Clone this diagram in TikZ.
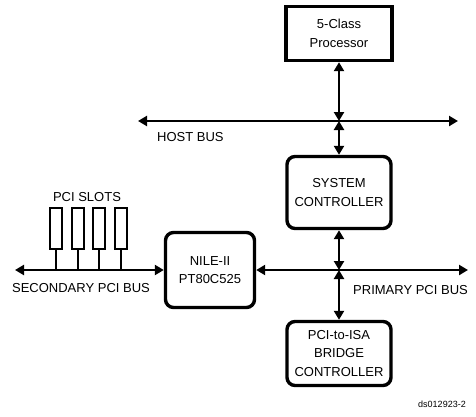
\documentclass[tikz,border=0pt]{standalone}
\usepackage{fontspec}
\setmainfont{Liberation Sans}
\usetikzlibrary{arrows.meta}
\tikzset{
  lbl/.style={font=\fontsize{13}{18.5}\selectfont, inner sep=0pt},
  blk/.style={draw, line width=3.4pt, align=center, lbl, rounded corners=8pt},
  sqblk/.style={blk, sharp corners},
  bus/.style={line width=2.5pt, {Triangle[length=9pt,width=10pt]}-{Triangle[length=9pt,width=10pt]}},
  slot/.style={draw, line width=2pt, minimum width=12pt, minimum height=41pt, inner sep=0pt}
}
\begin{document}
\begin{tikzpicture}[x=1pt,y=-1pt]
\useasboundingbox (0,0) rectangle (476,416);
% blocks
\node[sqblk, minimum width=106pt, minimum height=54pt] (proc) at (339,33.5) {5-Class\\Processor};
\node[blk, minimum width=104pt, minimum height=72pt] (sysctl) at (339,192.5) {SYSTEM\\CONTROLLER};
\node[blk, minimum width=89pt, minimum height=75pt] (nile) at (210,270) {NILE-II\\PT80C525};
\node[blk, minimum width=104pt, minimum height=64pt] (bridge) at (339,353.5) {PCI-to-ISA\\BRIDGE\\CONTROLLER};
% buses
\coordinate (hbL) at (138,121);
\coordinate (hbR) at (458,121);
\coordinate (hb) at (339,121);
\coordinate (pbR) at (468,270);
\coordinate (pb) at (339,270);
\coordinate (sbL) at (15,270);
\draw[bus] (hbL) -- (hbR);
\draw[bus] (proc.south) -- (hb);
\draw[bus] (hb) -- (sysctl.north);
\draw[bus] (nile.east) -- (pbR);
\draw[bus] (sysctl.south) -- (pb);
\draw[bus] (pb) -- (bridge.north);
\draw[bus] (sbL) -- (nile.west);
% slots
\foreach \i in {0,1,2,3}{
  \node[slot] (slot\i) at (56+21.5*\i,228.5) {};
  \draw[line width=2pt] (slot\i.south) -- (slot\i.south |- sbL);
}
% labels
\node[lbl] (slotlbl) at (87,197) {PCI SLOTS};
\node[lbl] (seclbl) at (81,288) {SECONDARY PCI BUS};
\node[lbl, anchor=west] (hostlbl) at (157,137) {HOST BUS};
\node[lbl, anchor=west] (primlbl) at (353,290) {PRIMARY PCI BUS};
\node[font=\fontsize{9}{10}\selectfont, inner sep=0pt] (code) at (442,404) {ds012923-2};
\end{tikzpicture}
\end{document}
